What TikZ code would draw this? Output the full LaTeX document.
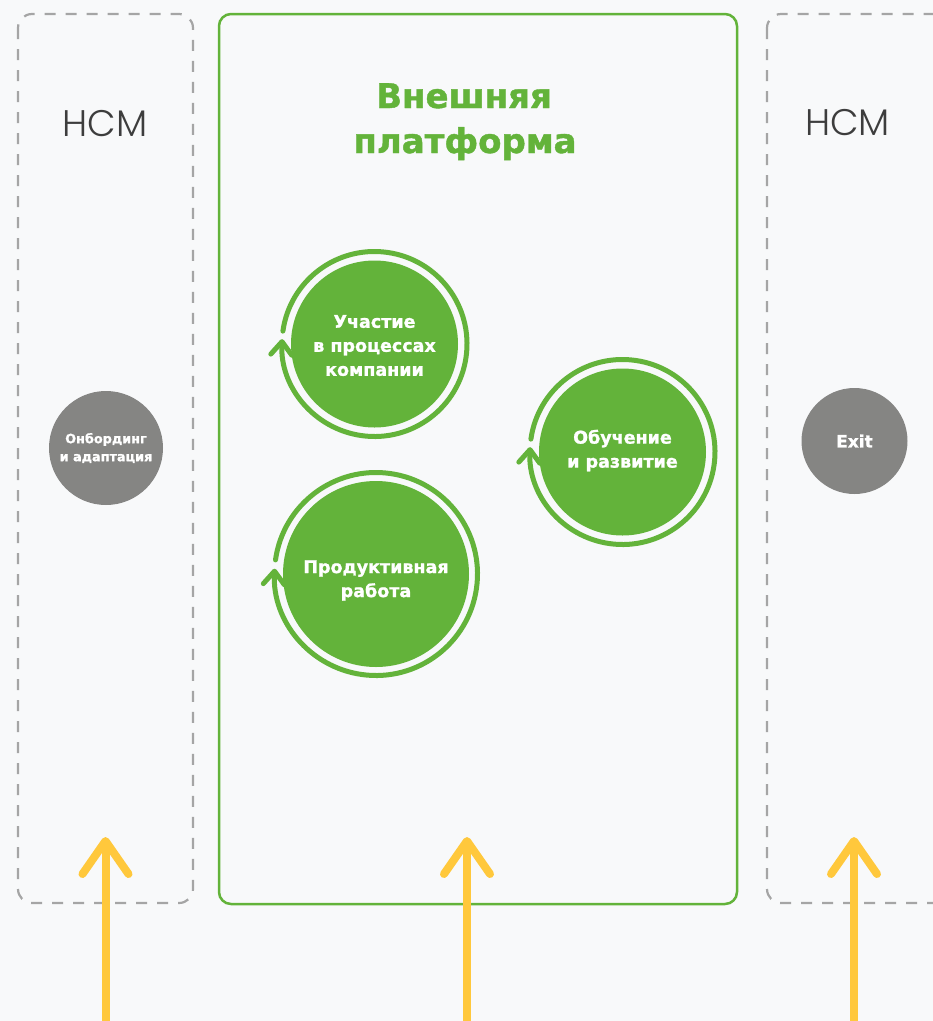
\documentclass[tikz,border=0pt]{standalone}
\usepackage{fontspec}
\setmainfont{DejaVu Sans}[BoldFeatures={FakeBold=1.2}]
\IfFontExistsTF{Poppins Light}{\newfontfamily\hcmfont{Poppins Light}}{\IfFontExistsTF{DejaVu Sans ExtraLight}{\newfontfamily\hcmfont{DejaVu Sans ExtraLight}}{\newfontfamily\hcmfont{DejaVu Sans}}}
\usetikzlibrary{arrows.meta,calc}
\definecolor{bg}{HTML}{F8F9FA}
\definecolor{brandgreen}{HTML}{63B33A}
\definecolor{dashgray}{HTML}{A5A5A5}
\definecolor{hcmgray}{HTML}{3D3D3D}
\definecolor{yel}{HTML}{FFC83C}
\definecolor{greyfill}{HTML}{858583}
\tikzset{
  dashbox/.style={draw=dashgray, line width=2.2pt, dash pattern=on 11pt off 10pt, rounded corners=14pt},
  greenbox/.style={draw=brandgreen, line width=2.5pt, rounded corners=12pt},
  hcm/.style={font=\hcmfont\fontsize{37}{40}\selectfont, text=hcmgray, anchor=base, inner sep=0pt},
  titletext/.style={font=\bfseries\fontsize{34}{40}\selectfont, text=brandgreen, anchor=base, inner sep=0pt},
  gcirc/.style={circle, fill=brandgreen, inner sep=0pt},
  ctext/.style={font=\bfseries\fontsize{17.5}{24}\selectfont, text=white, align=center, inner sep=0pt},
  ring/.style={draw=brandgreen, line width=5pt, line cap=round, -{Straight Barb[length=13pt,width=21pt,round]}},
  graycirc/.style={circle, fill=greyfill, inner sep=0pt, text=white, align=center},
  yarrow/.style={draw=yel, line width=8pt, line cap=round, -{Straight Barb[length=33pt,width=46pt,round]}},
}
\begin{document}
\begin{tikzpicture}[x=1pt,y=1pt]
\path[use as bounding box, fill=bg] (0,0) rectangle (933,-1021);
\begin{scope}
  \clip (0,0) rectangle (933,-1021);
  \draw[dashbox] (18,-14) rectangle (193,-903);
  \draw[dashbox] (767,-14) rectangle (965,-903);
  \draw[greenbox] (219,-14) rectangle (737,-904);
  \coordinate (yb1) at (105.5,-1021);
  \coordinate (yt1) at (105.5,-837);
  \coordinate (yb2) at (467,-1021);
  \coordinate (yt2) at (467,-837);
  \coordinate (yb3) at (854,-1021);
  \coordinate (yt3) at (854,-837);
  \draw[yarrow] (yb1) -- (yt1);
  \draw[yarrow] (yb2) -- (yt2);
  \draw[yarrow] (yb3) -- (yt3);
\end{scope}
\node[hcm] (hcmL) at (105,-136) {HCM};
\node[hcm] (hcmR) at (847.5,-135) {HCM};
\node[titletext] (title1) at (464,-108) {Внешняя};
\node[titletext] (title2) at (465,-153) {платформа};
% green circles
\node[gcirc, minimum size=167pt] (c1) at (374.5,-344) {};
\node[gcirc, minimum size=167pt] (c2) at (622.5,-452) {};
\node[gcirc, minimum size=186pt] (c3) at (376,-574) {};
\node[ctext] (l1) at ($(c1.center)+(0,-1.5)$) {Участие\\в процессах\\компании};
\node[ctext] (l2) at ($(c2.center)+(0,1.5)$) {Обучение\\и развитие};
\node[ctext] (l3) at ($(c3.center)+(0,-6.5)$) {Продуктивная\\работа};
\draw[ring] ($(c1.center)+(172:92.5)$) arc[start angle=172, end angle=-183, radius=92.5];
\draw[ring] ($(c2.center)+(172:92.5)$) arc[start angle=172, end angle=-183, radius=92.5];
\draw[ring] ($(c3.center)+(172:101.5)$) arc[start angle=172, end angle=-183, radius=101.5];
% grey circles
\node[graycirc, minimum size=114pt, font=\bfseries\fontsize{12.8}{18}\selectfont] (onb) at (106,-448) {Онбординг\\и адаптация};
\node[graycirc, minimum size=106pt, font=\bfseries\fontsize{17}{20}\selectfont] (exit) at (854.5,-441) {Exit};
\end{tikzpicture}
\end{document}
